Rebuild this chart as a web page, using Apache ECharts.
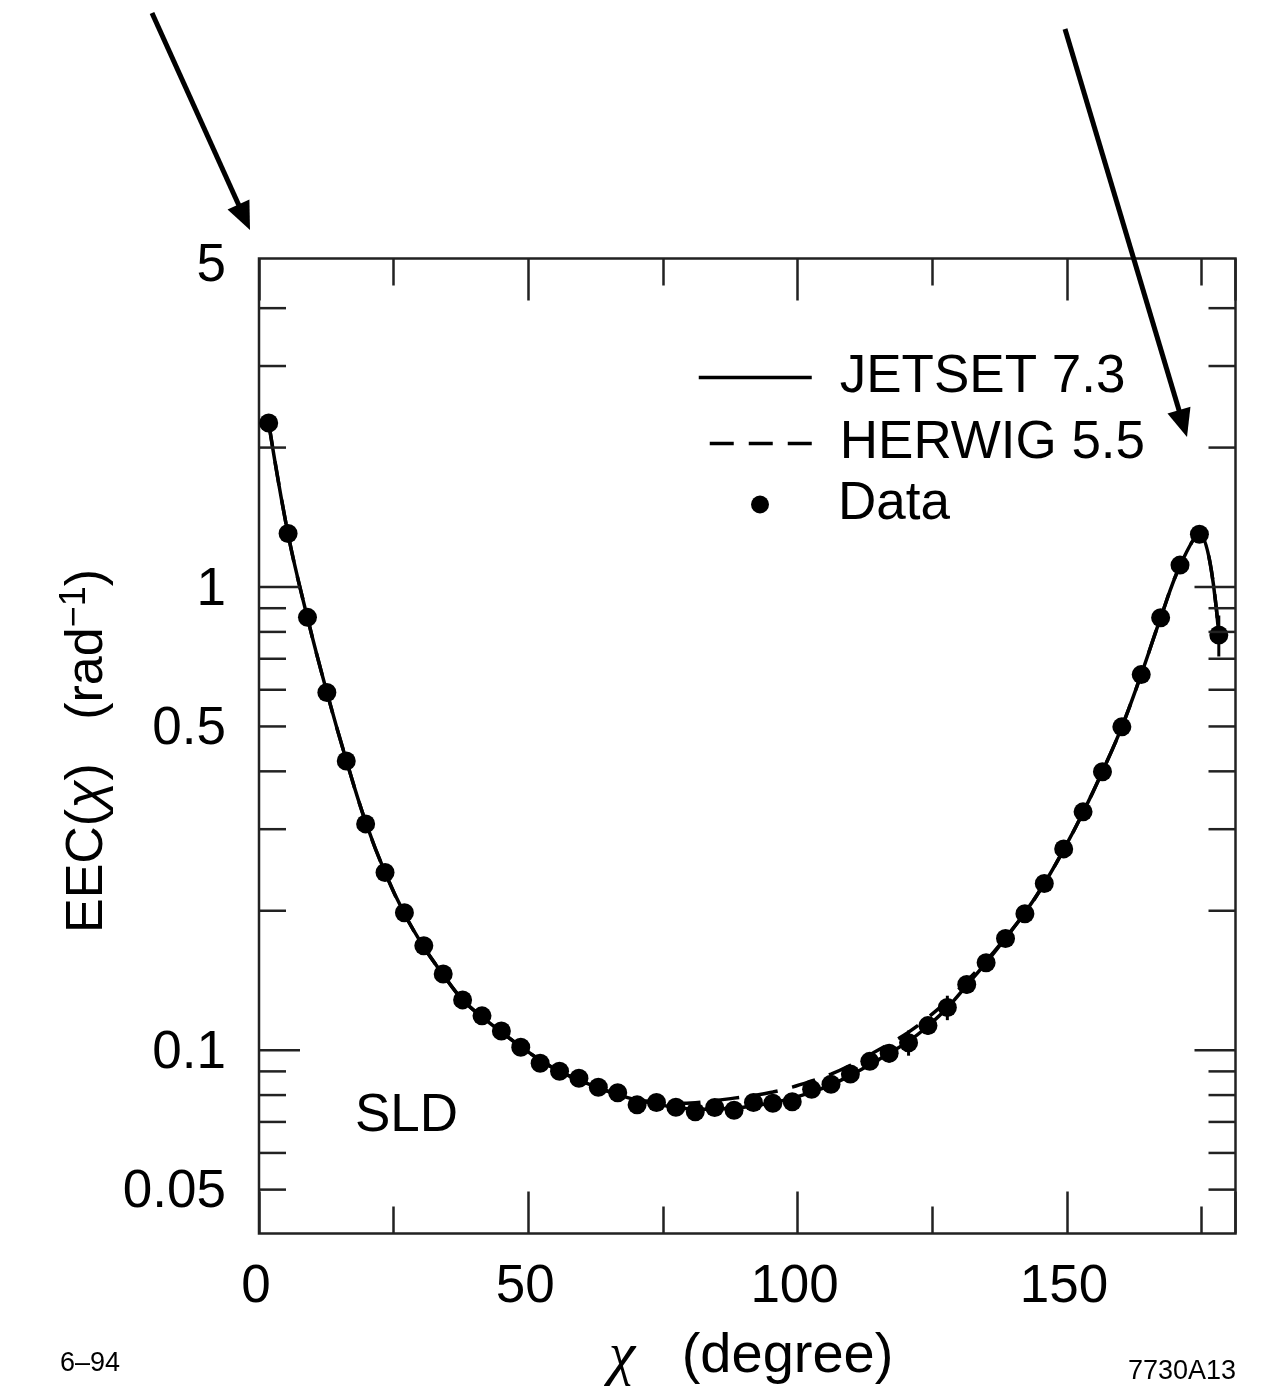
<!DOCTYPE html>
<html>
<head>
<meta charset="utf-8">
<script src="https://cdn.jsdelivr.net/npm/echarts@6/dist/echarts.min.js"></script>
<style>
html,body{margin:0;padding:0;background:#fff;}
#c{width:1261px;height:1387px;}
</style>
</head>
<body>
<div id="c"></div>
<script>
// ---- data ----
const chi = [1.8, 5.4, 9.0, 12.6, 16.2, 19.8, 23.4, 27.0, 30.6, 34.2,
  37.8, 41.4, 45.0, 48.6, 52.2, 55.8, 59.4, 63.0, 66.6, 70.2,
  73.8, 77.4, 81.0, 84.6, 88.2, 91.8, 95.4, 99.0, 102.6, 106.2,
  109.8, 113.4, 117.0, 120.6, 124.2, 127.8, 131.4, 135.0, 138.6, 142.2,
  145.8, 149.4, 153.0, 156.6, 160.2, 163.8, 167.4, 171.0, 174.6, 178.2];

const dataEEC = [2.26, 1.305, 0.860, 0.592, 0.421, 0.308, 0.242, 0.198, 0.168, 0.146,
  0.1284, 0.1186, 0.1100, 0.1015, 0.0937, 0.0901, 0.0870, 0.0832, 0.0809, 0.0762,
  0.0771, 0.0753, 0.0736, 0.0752, 0.0742, 0.0771, 0.0768, 0.0774, 0.0823, 0.0844,
  0.0888, 0.0946, 0.0985, 0.1038, 0.1130, 0.1236, 0.1386, 0.1544, 0.1743, 0.197,
  0.229, 0.272, 0.327, 0.399, 0.499, 0.647, 0.858, 1.115, 1.300, 0.788];

const dataErr = [0.05, 0.03, 0.02, 0.012, 0.008, 0.006, 0.004, 0.0035, 0.003, 0.0025,
  0.0022, 0.002, 0.002, 0.0019, 0.0018, 0.0018, 0.0017, 0.0017, 0.0016, 0.0016,
  0.0016, 0.0016, 0.0016, 0.0016, 0.0016, 0.0017, 0.0017, 0.0018, 0.0020, 0.0022,
  0.0025, 0.0035, 0.0045, 0.0065, 0.005, 0.0075, 0.006, 0.006, 0.007, 0.008,
  0.009, 0.011, 0.013, 0.016, 0.02, 0.025, 0.035, 0.045, 0.05, 0.08];

const jetset = [2.26, 1.30, 0.858, 0.593, 0.423, 0.311, 0.242, 0.197, 0.167, 0.1455,
  0.1285, 0.1180, 0.1095, 0.1018, 0.0952, 0.0900, 0.0862, 0.0830, 0.0802, 0.0780,
  0.0765, 0.0752, 0.0746, 0.0746, 0.0750, 0.0758, 0.0770, 0.0788, 0.0812, 0.0842,
  0.0882, 0.0930, 0.0985, 0.1045, 0.1128, 0.1235, 0.1380, 0.1545, 0.1745, 0.198,
  0.229, 0.271, 0.326, 0.400, 0.499, 0.648, 0.858, 1.112, 1.305, 0.790];

const herwig = [2.26, 1.30, 0.858, 0.593, 0.423, 0.311, 0.242, 0.197, 0.167, 0.1455,
  0.1285, 0.1180, 0.1095, 0.1018, 0.0952, 0.0900, 0.0862, 0.0830, 0.0802, 0.0782,
  0.0772, 0.0768, 0.0770, 0.0778, 0.0788, 0.0798, 0.0812, 0.0832, 0.0858, 0.0888,
  0.0928, 0.0978, 0.1032, 0.1094, 0.1176, 0.1278, 0.1410, 0.1560, 0.1750, 0.198,
  0.229, 0.271, 0.326, 0.400, 0.499, 0.648, 0.858, 1.112, 1.305, 0.790];

const xTickLabels = [0, 50, 100, 150];
const yLabelValues = [5, 1, 0.5, 0.1, 0.05];
const yLabelTexts = ['5', '1', '0.5', '0.1', '0.05'];
const yMajorTicks = [1, 0.1];
const yMinorTicks = [4, 3, 2, 0.9, 0.8, 0.7, 0.6, 0.5, 0.4, 0.3, 0.2, 0.09, 0.08, 0.07, 0.06, 0.05];

// ---- layout / style ----
const X_MIN = 0, X_MAX = 181.3;
const Y_MIN = 0.0402, Y_MAX = 5.12;
const FONT = '"Liberation Sans", Arial, Helvetica, sans-serif';
const INK = '#000';
const FRAME = '#222';

const chart = echarts.init(document.getElementById('c'), null, {renderer: 'canvas'});

function xAxisDef(pos, interval, len, showLabel) {
  return {
    type: 'value', position: pos, min: X_MIN, max: X_MAX, interval: interval,
    axisLine: {show: false, onZero: false},
    splitLine: {show: false},
    axisTick: {show: true, inside: true, length: len, lineStyle: {color: FRAME, width: 2.5}},
    axisLabel: {
      show: showLabel, margin: 27, fontSize: 53, fontFamily: FONT, color: '#000',
      padding: [0, 6, 0, 0],
      showMinLabel: true, showMaxLabel: true,
      formatter: function (v) { return xTickLabels.indexOf(Math.round(v * 1000) / 1000) >= 0 ? String(v) : ''; }
    }
  };
}

const pairs = (ys) => chi.map((x, i) => [x, ys[i]]);

const tickData = yMajorTicks.map(v => [0, v, 41]).concat(yMinorTicks.map(v => [0, v, 27]));
const labelData = yLabelValues.map((v, i) => [0, v, i]);
const errData = chi.map((x, i) => [x, dataEEC[i] - dataErr[i], dataEEC[i] + dataErr[i]]);

function arrow(x0, y0, x1, y1) {
  const dx = x1 - x0, dy = y1 - y0, L = Math.hypot(dx, dy);
  const ux = dx / L, uy = dy / L, hl = 28, hw = 12;
  const bx = x1 - ux * hl, by = y1 - uy * hl;
  return [
    {type: 'line', shape: {x1: x0, y1: y0, x2: bx + ux * 2, y2: by + uy * 2}, style: {stroke: '#000', lineWidth: 5}},
    {type: 'polygon', shape: {points: [[x1, y1], [bx - uy * hw, by + ux * hw], [bx + uy * hw, by - ux * hw]]}, style: {fill: '#000'}}
  ];
}

const legendText = {fontSize: 53, lineHeight: 52, fontFamily: FONT, color: '#000'};

const option = {
  animation: false,
  backgroundColor: '#fff',
  grid: {
    left: 259, top: 258.5, width: 976.5, height: 975,
    show: true, borderColor: FRAME, borderWidth: 2.5, backgroundColor: 'transparent',
    containLabel: false, outerBoundsMode: 'none'
  },
  xAxis: [
    xAxisDef('bottom', 50, 42, true),
    xAxisDef('bottom', 25, 27, false),
    xAxisDef('top', 50, 42, false),
    xAxisDef('top', 25, 27, false)
  ],
  yAxis: {
    type: 'log', logBase: 10, min: Y_MIN, max: Y_MAX,
    axisLine: {show: false}, axisTick: {show: false}, axisLabel: {show: false}, splitLine: {show: false}
  },
  legend: [
    {
      data: ['JETSET 7.3', 'HERWIG 5.5'], orient: 'vertical', left: 697, top: 351, padding: 0,
      itemWidth: 113, itemHeight: 18, itemGap: 13, selectedMode: false,
      itemStyle: {color: 'rgba(0,0,0,0)', borderWidth: 0, opacity: 0},
      lineStyle: {width: 3.5, dashOffset: 28},
      textStyle: Object.assign({padding: [0, 0, 0, 23]}, legendText)
    },
    {
      data: ['Data'], orient: 'vertical', left: 751, top: 478, padding: 0,
      itemWidth: 18, itemHeight: 18, selectedMode: false,
      itemStyle: {color: '#000', opacity: 1},
      textStyle: Object.assign({padding: [0, 0, 0, 64]}, legendText)
    }
  ],
  series: [
    {
      name: 'JETSET 7.3', type: 'line', data: pairs(jetset), smooth: 0.4,
      symbol: 'none', showSymbol: false,
      lineStyle: {color: INK, width: 3.5}, itemStyle: {color: INK}, z: 3
    },
    {
      name: 'HERWIG 5.5', type: 'line', data: pairs(herwig), smooth: 0.4,
      symbol: 'none', showSymbol: false,
      lineStyle: {color: INK, width: 3.5, type: [24, 15]}, itemStyle: {color: INK}, z: 3
    },
    {
      name: 'errors', type: 'custom', data: errData, z: 4, silent: true,
      renderItem: function (params, api) {
        const lo = api.coord([api.value(0), api.value(1)]);
        const hi = api.coord([api.value(0), api.value(2)]);
        return {type: 'line', shape: {x1: lo[0], y1: lo[1], x2: hi[0], y2: hi[1]}, style: {stroke: INK, lineWidth: 3}};
      }
    },
    {
      name: 'Data', type: 'scatter', data: pairs(dataEEC), symbol: 'circle', symbolSize: 19,
      itemStyle: {color: INK, opacity: 1}, z: 5
    },
    {
      name: 'yticks', type: 'custom', data: tickData, z: 6, silent: true, clip: false,
      renderItem: function (params, api) {
        const v = api.value(1), len = api.value(2);
        const pL = api.coord([X_MIN, v]);
        const pR = api.coord([X_MAX, v]);
        const st = {stroke: FRAME, lineWidth: 2.5};
        return {type: 'group', children: [
          {type: 'line', shape: {x1: pL[0], y1: pL[1], x2: pL[0] + len, y2: pL[1]}, style: st},
          {type: 'line', shape: {x1: pR[0] - len, y1: pR[1], x2: pR[0], y2: pR[1]}, style: st}
        ]};
      }
    },
    {
      name: 'ylabels', type: 'custom', data: labelData, z: 6, silent: true, clip: false,
      renderItem: function (params, api) {
        const p = api.coord([X_MIN, api.value(1)]);
        return {type: 'text', x: p[0] - 33, y: p[1] + 3, style: {
          text: yLabelTexts[api.value(2)], fontSize: 53, fontFamily: FONT, fill: '#000',
          align: 'right', verticalAlign: 'middle'
        }};
      }
    }
  ],
  graphic: [
    ...arrow(152, 13, 250, 230),
    ...arrow(1065, 29, 1187, 437),
    {type: 'text', x: 355, y: 1116, style: {text: 'SLD', fontSize: 53, fontFamily: FONT, fill: '#000', align: 'left', verticalAlign: 'middle'}},
    {type: 'text', x: 60, y: 1364, style: {text: '6–94', fontSize: 27, fontFamily: FONT, fill: '#000', align: 'left', verticalAlign: 'middle'}},
    {type: 'text', x: 1236, y: 1372, style: {text: '7730A13', fontSize: 27, fontFamily: FONT, fill: '#000', align: 'right', verticalAlign: 'middle'}},
    {type: 'text', x: 751, y: 1357, style: {
      text: '{c|χ}{n|   (degree)}', align: 'center', verticalAlign: 'middle', fill: '#000',
      rich: {
        c: {fontSize: 60, fontFamily: '"Liberation Serif", "DejaVu Serif", serif', fontStyle: 'italic', fill: '#000'},
        n: {fontSize: 56, fontFamily: FONT, fill: '#000'}
      }
    }},
    {type: 'text', x: 88, y: 751, rotation: Math.PI / 2, style: {
      text: '{n|EEC(}{c|χ}{n|)   (rad}{s|−1}{n|)}', align: 'center', verticalAlign: 'middle', fill: '#000',
      rich: {
        n: {fontSize: 52, lineHeight: 62, fontFamily: FONT, fill: '#000'},
        c: {fontSize: 52, lineHeight: 62, fontFamily: FONT, fontStyle: 'italic', fill: '#000'},
        s: {fontSize: 36, lineHeight: 36, fontFamily: FONT, verticalAlign: 'top', fill: '#000'}
      }
    }}
  ]
};

chart.setOption(option);
</script>
</body>
</html>
